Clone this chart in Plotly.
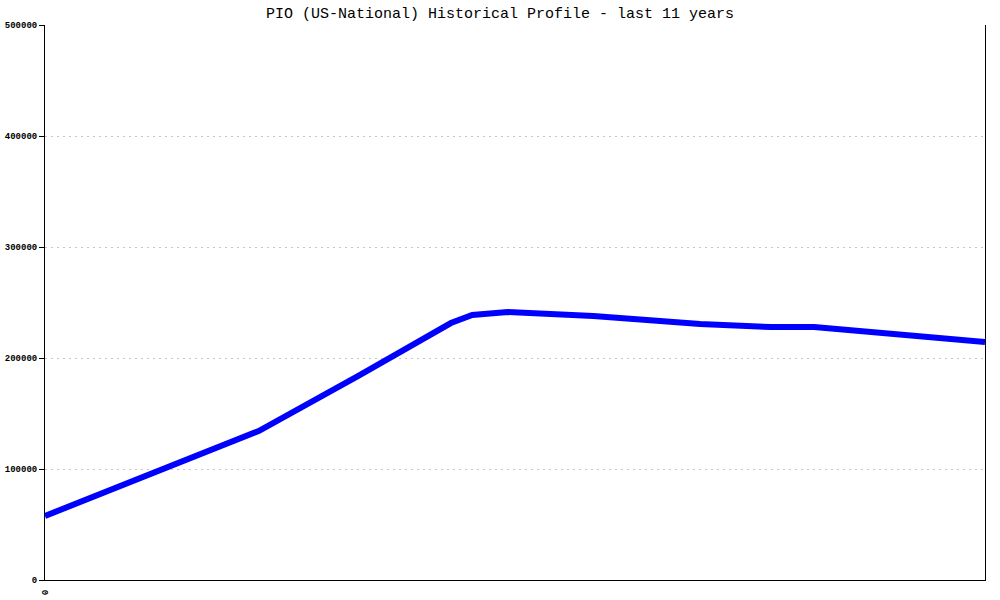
import plotly.graph_objects as go

# month index since start of the 11-year window
months = [0, 30, 44, 57, 60, 65, 77, 92, 102, 108, 132]
values = [57700, 134200, 183800, 231500, 238700, 241400, 237800, 230600, 227900, 227900, 214400]

y_ticks = [0, 100000, 200000, 300000, 400000, 500000]
title_text = "PIO (US-National) Historical Profile - last 11 years"

fig = go.Figure()
fig.add_trace(go.Scatter(
    x=months, y=values, mode="lines",
    line=dict(color="#0000ff", width=6),
    hoverinfo="skip", showlegend=False,
))

fig.update_layout(
    width=1000, height=600,
    margin=dict(l=45, r=15, t=25, b=20, autoexpand=False),
    paper_bgcolor="white", plot_bgcolor="white",
    title=dict(text=title_text, x=0.5, xanchor="center", yref="container", y=0.978, yanchor="middle",
               font=dict(family="Liberation Mono", size=15, color="black")),
    font=dict(family="Liberation Mono", color="black"),
)
fig.update_xaxes(
    range=[0, 132], showgrid=False, zeroline=False, automargin=False,
    showline=True, linecolor="black", linewidth=1,
    tickmode="array", tickvals=[0], ticktext=["<b>0</b>"], tickangle=90,
    ticks="", ticklabelstandoff=7, tickfont=dict(size=9, family="Liberation Mono"),
)
fig.update_yaxes(
    range=[0, 500000], zeroline=False, automargin=False,
    showline=True, linecolor="black", linewidth=1, mirror=True,
    showgrid=True, gridcolor="#c8c8c8", griddash="2px,4px", gridwidth=1,
    tickmode="array", tickvals=y_ticks, ticktext=["<b>%d</b>" % v for v in y_ticks],
    ticks="outside", ticklen=5, tickcolor="black",
    tickfont=dict(size=9, family="Liberation Mono"),
)

fig.write_html("out.html", config={"displayModeBar": False},
               post_script="document.body.style.margin='0';")
